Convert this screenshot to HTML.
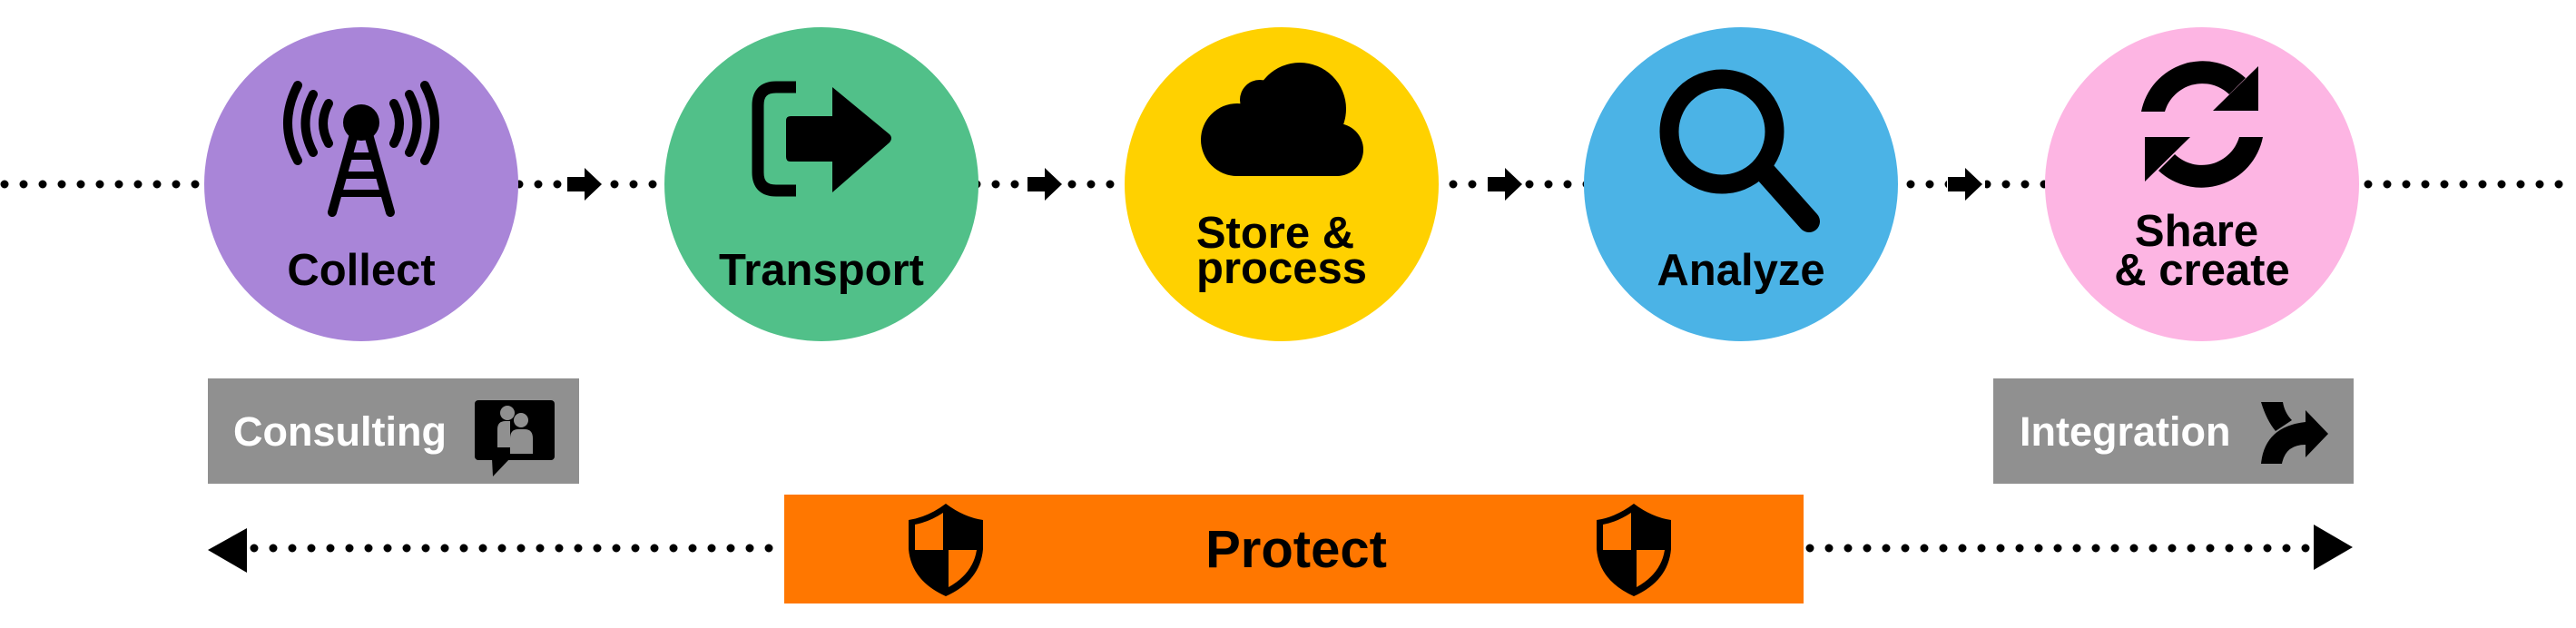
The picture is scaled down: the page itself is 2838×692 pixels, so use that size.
<!DOCTYPE html>
<html><head><meta charset="utf-8"><style>
html,body{margin:0;padding:0;background:#fff;}
svg{display:block;}
text{font-family:"Liberation Sans",Arial,sans-serif;font-weight:bold;}
</style></head><body>
<svg width="2838" height="692" viewBox="0 0 2838 692" xmlns="http://www.w3.org/2000/svg">
<!-- top dotted line -->
<line x1="5" y1="203" x2="2838" y2="203" stroke="#000" stroke-width="9" stroke-linecap="round" stroke-dasharray="0 21"/>
<!-- arrows between circles -->
<g fill="#000">
<g transform="translate(651,0)"><rect x="-27" y="186" width="42" height="34" fill="#fff"/><rect x="-26" y="195" width="20" height="16"/><polygon points="-7,185 12,203 -7,221"/></g>
<g transform="translate(1158,0)"><rect x="-27" y="186" width="42" height="34" fill="#fff"/><rect x="-26" y="195" width="20" height="16"/><polygon points="-7,185 12,203 -7,221"/></g>
<g transform="translate(1665,0)"><rect x="-27" y="186" width="42" height="34" fill="#fff"/><rect x="-26" y="195" width="20" height="16"/><polygon points="-7,185 12,203 -7,221"/></g>
<g transform="translate(2172,0)"><rect x="-27" y="186" width="42" height="34" fill="#fff"/><rect x="-26" y="195" width="20" height="16"/><polygon points="-7,185 12,203 -7,221"/></g>
</g>
<!-- circles -->
<circle cx="398" cy="203" r="173" fill="#a985d8"/>
<circle cx="905" cy="203" r="173" fill="#51c089"/>
<circle cx="1412" cy="203" r="173" fill="#ffd100"/>
<circle cx="1918" cy="203" r="173" fill="#4bb3e6"/>
<circle cx="2426" cy="203" r="173" fill="#fdb5e3"/>

<!-- Collect antenna -->
<g stroke="#000" stroke-width="10" fill="none" stroke-linecap="round">
<path d="M362,114 Q350,136 362,158"/>
<path d="M345,104 Q328,136 345,168"/>
<path d="M328,94 Q306,136 328,177"/>
<path d="M434,114 Q446,136 434,158"/>
<path d="M451,104 Q468,136 451,168"/>
<path d="M468,94 Q490,136 468,177"/>
<path d="M390,148 L366,234"/>
<path d="M406,148 L430,234"/>
</g>
<g fill="#000"><circle cx="398" cy="135" r="20"/>
<rect x="384" y="168" width="28" height="8"/><rect x="378" y="189" width="40" height="8"/><rect x="372" y="209" width="52" height="8"/></g>
<text x="398" y="314" font-size="49" text-anchor="middle">Collect</text>

<!-- Transport icon -->
<path d="M877,96 L855,96 Q835,96 835,116 L835,190 Q835,210 855,210 L877,210" stroke="#000" stroke-width="13" fill="none"/>
<path d="M871,128 L917,128 L917,96 L980,148 Q984,152 980,157 L917,212 L917,178 L871,178 Q866,178 866,173 L866,133 Q866,128 871,128 Z" fill="#000"/>
<text x="905" y="314" font-size="49" text-anchor="middle">Transport</text>

<!-- Cloud -->
<g fill="#000">
<circle cx="1432" cy="120" r="51"/>
<circle cx="1388" cy="110" r="22"/>
<circle cx="1363" cy="154" r="40"/>
<circle cx="1473" cy="165" r="29"/>
<rect x="1363" y="120" width="110" height="74"/>
</g>
<text x="1405" y="273" font-size="49" text-anchor="middle">Store &amp;</text>
<text x="1412" y="312" font-size="49" text-anchor="middle">process</text>

<!-- Magnifier -->
<ellipse cx="1897" cy="145" rx="58" ry="58" stroke="#000" stroke-width="21" fill="none"/>
<line x1="1945" y1="190" x2="1993" y2="244" stroke="#000" stroke-width="24" stroke-linecap="round"/>
<text x="1918" y="314" font-size="49" text-anchor="middle">Analyze</text>

<!-- Refresh -->
<g fill="#000">
<path d="M2359,123 A69,69 0 0 1 2474,86 L2456,104 A43,43 0 0 0 2385,123 Z"/>
<polygon points="2488,73 2488,122 2438,122"/>
<path d="M2493,151 A69,69 0 0 1 2378,188 L2396,170 A43,43 0 0 0 2467,151 Z"/>
<polygon points="2363,200 2363,151 2413,151"/>
</g>
<text x="2420" y="271" font-size="49" text-anchor="middle">Share</text>
<text x="2426" y="314" font-size="49" text-anchor="middle">&amp; create</text>

<!-- Consulting box -->
<rect x="229" y="417" width="409" height="116" fill="#909090"/>
<text x="257" y="491" font-size="45" fill="#fff">Consulting</text>
<rect x="523" y="441" width="88" height="66" rx="4" fill="#000"/>
<polygon points="542,505 562,505 543,525" fill="#000"/>
<g fill="#909090">
<circle cx="559" cy="455" r="8"/>
<path d="M548,473 Q548,464 557,464 L562,464 L562,493 L548,493 Z"/>
<circle cx="574" cy="463" r="8"/>
<path d="M562,483 Q562,473 571,473 L578,473 Q587,473 587,483 L587,500 L562,500 Z"/>
</g>

<!-- Integration box -->
<rect x="2196" y="417" width="397" height="116" fill="#909090"/>
<text x="2225" y="491" font-size="45" fill="#fff">Integration</text>
<g fill="#000">
<path d="M2491,443 L2515,443 Q2517,455 2525,463 L2507,475 Q2497,463 2491,443 Z"/>
<path d="M2491,511 Q2495,470 2540,465 L2540,452 L2565,478 L2540,504 L2540,490 Q2518,490 2514,511 Z"/>
</g>

<!-- bottom dotted line -->
<line x1="280" y1="604" x2="864" y2="604" stroke="#000" stroke-width="9" stroke-linecap="round" stroke-dasharray="0 21"/>
<line x1="1994" y1="604" x2="2545" y2="604" stroke="#000" stroke-width="9" stroke-linecap="round" stroke-dasharray="0 21"/>
<polygon points="229,606 272,582 272,631" fill="#000"/>
<polygon points="2549,578 2592,603 2549,628" fill="#000"/>

<!-- Protect bar -->
<rect x="864" y="545" width="1123" height="120" fill="#ff7700"/>
<text x="1428" y="625" font-size="58" text-anchor="middle">Protect</text>
<g id="sh">
<path d="M1042,555 Q1022,570 1001,573 L1001,605 Q1004,640 1042,657 Q1080,640 1083,605 L1083,573 Q1062,570 1042,555 Z" fill="#000"/>
<path d="M1039,565 Q1024,575 1008,578 L1008,606 L1039,606 Z" fill="#ff7700"/>
<path d="M1045,606 L1076,606 Q1072,632 1045,647 Z" fill="#ff7700"/>
</g>
<use href="#sh" transform="translate(758,0)"/>
</svg>
</body></html>
